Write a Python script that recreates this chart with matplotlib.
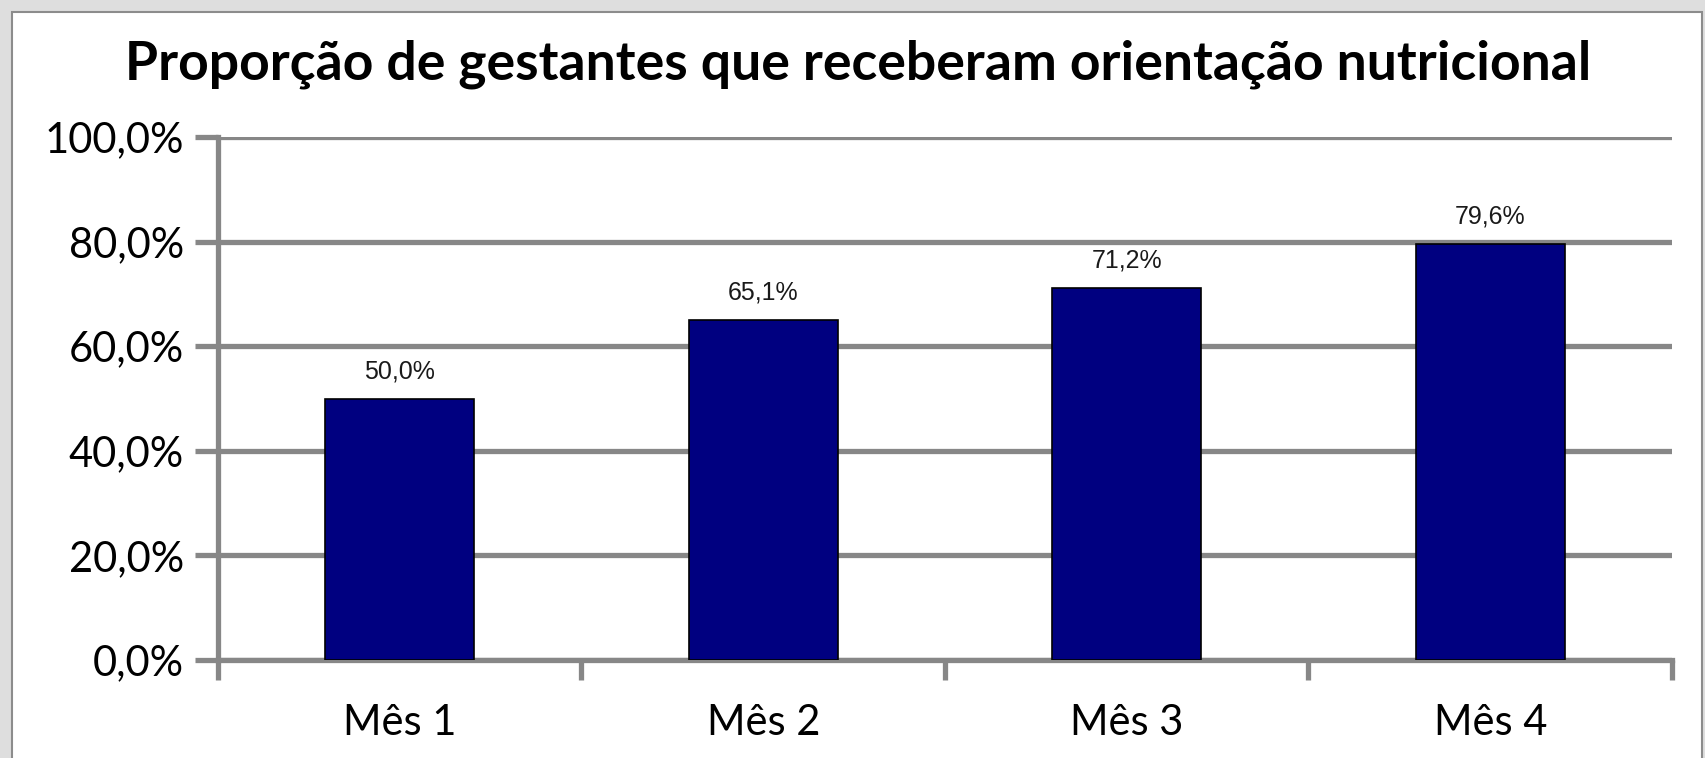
import matplotlib
matplotlib.use('Agg')
import matplotlib.pyplot as plt
import matplotlib.patches as patches
import numpy as np

# chart data
categories = ['Mês 1', 'Mês 2', 'Mês 3', 'Mês 4']
values = [50.0, 65.1, 71.2, 79.6]
yticks = [0, 20, 40, 60, 80, 100]
title = 'Proporção de gestantes que receberam orientação nutricional'

grey = '#878787'
lw = 3.8
W, H = 1706, 758

fig = plt.figure(figsize=(W / 100, H / 100), dpi=100)
fig.patch.set_facecolor('#dedede')

# white chart panel with thin grey frame
panel = patches.Rectangle((12 / W, -0.05), (1702 - 12) / W, 1.05 - 12 / H,
                          transform=fig.transFigure, facecolor='white',
                          edgecolor='#8c8c8c', linewidth=1.5, zorder=-10)
fig.add_artist(panel)

ax = fig.add_axes([218 / W, 1 - 660 / H, (1672 - 218) / W, (660 - 137) / H])
ax.set_facecolor('none')

x = np.arange(len(categories))
ax.bar(x, values, width=0.41, color='#000080', edgecolor='black',
       linewidth=1.2, zorder=3)

for xi, v in zip(x, values):
    ax.annotate('{:.1f}%'.format(v).replace('.', ','), xy=(xi, v),
                xytext=(0, 11), textcoords='offset points',
                ha='center', va='bottom', fontsize=18, color='#1a1a1a',
                family='Liberation Sans')

ax.set_xlim(-0.5, len(categories) - 0.5)
ax.set_ylim(0, 100)

# y axis
ax.set_yticks(yticks)
ax.set_yticklabels(['{:.1f}%'.format(t).replace('.', ',') for t in yticks],
                   family='Lato', fontsize=30)
ax.tick_params(axis='y', direction='out', length=16.5, width=lw,
               color=grey, pad=8)
ax.yaxis.grid(True, color=grey, linewidth=lw, zorder=1)
ax.set_axisbelow(True)

# x axis: ticks at category boundaries, labels as minor ticks
ax.set_xticks(np.arange(-0.5, len(categories), 1.0))
ax.set_xticklabels([])
ax.tick_params(axis='x', which='major', direction='out', length=14.4,
               width=lw, color=grey)
ax.set_xticks(x, minor=True)
ax.set_xticklabels(categories, minor=True, family='Lato', fontsize=30)
ax.tick_params(axis='x', which='minor', length=0, pad=32)

for side in ['top', 'right']:
    ax.spines[side].set_visible(False)
for side in ['left', 'bottom']:
    ax.spines[side].set_color(grey)
    ax.spines[side].set_linewidth(lw)

fig.text(0.503, 1 - 64 / H, title, ha='center', va='center',
         family='Lato', fontweight='bold', fontsize=38.5)

plt.savefig('out.png', dpi=100, facecolor=fig.get_facecolor())
